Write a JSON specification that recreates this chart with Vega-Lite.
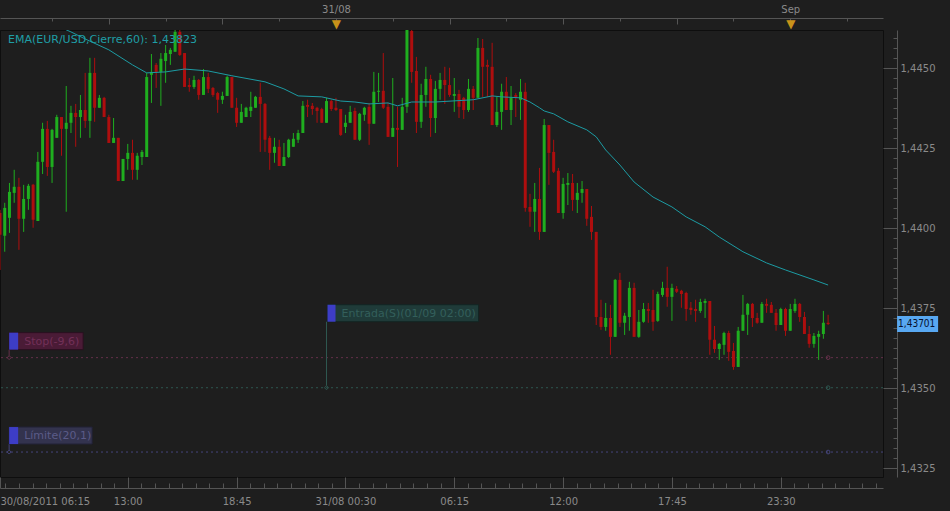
{
"$schema": "https://vega.github.io/schema/vega-lite/v6.json",
"width": 883,
"height": 447,
"autosize": {"type": "none"},
"padding": {"left": 0, "top": 30, "right": 67, "bottom": 34},
"background": "#1e1e1e",
"title": {"text": "EMA(EUR/USD,Cierre,60): 1,43823", "anchor": "start", "frame": "group", "orient": "top", "offset": 0, "dx": 8, "dy": 47, "baseline": "middle", "fontSize": 11, "font": "DejaVu Sans", "fontWeight": "normal", "color": "#1f9ea6"},
"data": {"name": "candles", "format": {"parse": {"t": "utc:'%Y-%m-%d %H:%M'"}}},
"datasets": {
"candles": [
{"t":"2011-08-30 06:15","o":1.44048,"h":1.44058,"l":1.43870,"c":1.43980},
{"t":"2011-08-30 06:30","o":1.43977,"h":1.44080,"l":1.43927,"c":1.44064},
{"t":"2011-08-30 06:45","o":1.44033,"h":1.44142,"l":1.43986,"c":1.44114},
{"t":"2011-08-30 07:00","o":1.44111,"h":1.44183,"l":1.44080,"c":1.44130},
{"t":"2011-08-30 07:15","o":1.44130,"h":1.44158,"l":1.43933,"c":1.44030},
{"t":"2011-08-30 07:30","o":1.44030,"h":1.44136,"l":1.43989,"c":1.44092},
{"t":"2011-08-30 07:45","o":1.44092,"h":1.44139,"l":1.44058,"c":1.44133},
{"t":"2011-08-30 08:00","o":1.44136,"h":1.44139,"l":1.44002,"c":1.44027},
{"t":"2011-08-30 08:15","o":1.44023,"h":1.44239,"l":1.44023,"c":1.44208},
{"t":"2011-08-30 08:30","o":1.44208,"h":1.44330,"l":1.44170,"c":1.44311},
{"t":"2011-08-30 08:45","o":1.44311,"h":1.44336,"l":1.44164,"c":1.44192},
{"t":"2011-08-30 09:00","o":1.44192,"h":1.44311,"l":1.44142,"c":1.44308},
{"t":"2011-08-30 09:15","o":1.44283,"h":1.44355,"l":1.44283,"c":1.44348},
{"t":"2011-08-30 09:30","o":1.44348,"h":1.44348,"l":1.44227,"c":1.44311},
{"t":"2011-08-30 09:45","o":1.44311,"h":1.44445,"l":1.44052,"c":1.44330},
{"t":"2011-08-30 10:00","o":1.44330,"h":1.44383,"l":1.44298,"c":1.44361},
{"t":"2011-08-30 10:15","o":1.44361,"h":1.44389,"l":1.44255,"c":1.44348},
{"t":"2011-08-30 10:30","o":1.44348,"h":1.44417,"l":1.44283,"c":1.44370},
{"t":"2011-08-30 10:45","o":1.44370,"h":1.44486,"l":1.44314,"c":1.44336},
{"t":"2011-08-30 11:00","o":1.44336,"h":1.44533,"l":1.44283,"c":1.44486},
{"t":"2011-08-30 11:15","o":1.44486,"h":1.44533,"l":1.44333,"c":1.44377},
{"t":"2011-08-30 11:30","o":1.44377,"h":1.44417,"l":1.44377,"c":1.44408},
{"t":"2011-08-30 11:45","o":1.44408,"h":1.44411,"l":1.44348,"c":1.44348},
{"t":"2011-08-30 12:00","o":1.44348,"h":1.44355,"l":1.44267,"c":1.44267},
{"t":"2011-08-30 12:15","o":1.44267,"h":1.44345,"l":1.44267,"c":1.44283},
{"t":"2011-08-30 12:30","o":1.44283,"h":1.44283,"l":1.44148,"c":1.44148},
{"t":"2011-08-30 12:45","o":1.44148,"h":1.44217,"l":1.44148,"c":1.44217},
{"t":"2011-08-30 13:00","o":1.44217,"h":1.44264,"l":1.44183,"c":1.44236},
{"t":"2011-08-30 13:15","o":1.44236,"h":1.44277,"l":1.44152,"c":1.44183},
{"t":"2011-08-30 13:30","o":1.44183,"h":1.44236,"l":1.44152,"c":1.44227},
{"t":"2011-08-30 13:45","o":1.44223,"h":1.44245,"l":1.44198,"c":1.44239},
{"t":"2011-08-30 14:00","o":1.44223,"h":1.44486,"l":1.44223,"c":1.44473},
{"t":"2011-08-30 14:15","o":1.44480,"h":1.44545,"l":1.44392,"c":1.44489},
{"t":"2011-08-30 14:30","o":1.44511,"h":1.44517,"l":1.44439,"c":1.44489},
{"t":"2011-08-30 14:45","o":1.44489,"h":1.44548,"l":1.44383,"c":1.44530},
{"t":"2011-08-30 15:00","o":1.44523,"h":1.44573,"l":1.44455,"c":1.44548},
{"t":"2011-08-30 15:15","o":1.44545,"h":1.44564,"l":1.44511,"c":1.44558},
{"t":"2011-08-30 15:30","o":1.44552,"h":1.44620,"l":1.44552,"c":1.44614},
{"t":"2011-08-30 15:45","o":1.44614,"h":1.44620,"l":1.44539,"c":1.44542},
{"t":"2011-08-30 16:00","o":1.44548,"h":1.44548,"l":1.44442,"c":1.44442},
{"t":"2011-08-30 16:15","o":1.44448,"h":1.44470,"l":1.44427,"c":1.44442},
{"t":"2011-08-30 16:30","o":1.44442,"h":1.44477,"l":1.44436,"c":1.44464},
{"t":"2011-08-30 16:45","o":1.44464,"h":1.44467,"l":1.44402,"c":1.44417},
{"t":"2011-08-30 17:00","o":1.44417,"h":1.44498,"l":1.44417,"c":1.44473},
{"t":"2011-08-30 17:15","o":1.44473,"h":1.44486,"l":1.44423,"c":1.44436},
{"t":"2011-08-30 17:30","o":1.44439,"h":1.44442,"l":1.44411,"c":1.44417},
{"t":"2011-08-30 17:45","o":1.44423,"h":1.44427,"l":1.44361,"c":1.44402},
{"t":"2011-08-30 18:00","o":1.44402,"h":1.44427,"l":1.44389,"c":1.44414},
{"t":"2011-08-30 18:15","o":1.44414,"h":1.44477,"l":1.44414,"c":1.44473},
{"t":"2011-08-30 18:30","o":1.44473,"h":1.44473,"l":1.44377,"c":1.44377},
{"t":"2011-08-30 18:45","o":1.44377,"h":1.44408,"l":1.44317,"c":1.44330},
{"t":"2011-08-30 19:00","o":1.44330,"h":1.44389,"l":1.44330,"c":1.44364},
{"t":"2011-08-30 19:15","o":1.44348,"h":1.44380,"l":1.44348,"c":1.44377},
{"t":"2011-08-30 19:30","o":1.44367,"h":1.44427,"l":1.44348,"c":1.44380},
{"t":"2011-08-30 19:45","o":1.44377,"h":1.44414,"l":1.44377,"c":1.44411},
{"t":"2011-08-30 20:00","o":1.44411,"h":1.44455,"l":1.44239,"c":1.44389},
{"t":"2011-08-30 20:15","o":1.44389,"h":1.44392,"l":1.44239,"c":1.44277},
{"t":"2011-08-30 20:30","o":1.44283,"h":1.44289,"l":1.44183,"c":1.44236},
{"t":"2011-08-30 20:45","o":1.44236,"h":1.44283,"l":1.44205,"c":1.44255},
{"t":"2011-08-30 21:00","o":1.44255,"h":1.44277,"l":1.44195,"c":1.44195},
{"t":"2011-08-30 21:15","o":1.44195,"h":1.44267,"l":1.44195,"c":1.44223},
{"t":"2011-08-30 21:30","o":1.44223,"h":1.44280,"l":1.44220,"c":1.44277},
{"t":"2011-08-30 21:45","o":1.44255,"h":1.44298,"l":1.44255,"c":1.44280},
{"t":"2011-08-30 22:00","o":1.44277,"h":1.44308,"l":1.44267,"c":1.44298},
{"t":"2011-08-30 22:15","o":1.44298,"h":1.44398,"l":1.44298,"c":1.44383},
{"t":"2011-08-30 22:30","o":1.44386,"h":1.44402,"l":1.44348,"c":1.44380},
{"t":"2011-08-30 22:45","o":1.44383,"h":1.44392,"l":1.44355,"c":1.44373},
{"t":"2011-08-30 23:00","o":1.44377,"h":1.44380,"l":1.44330,"c":1.44367},
{"t":"2011-08-30 23:15","o":1.44373,"h":1.44377,"l":1.44330,"c":1.44330},
{"t":"2011-08-30 23:30","o":1.44330,"h":1.44408,"l":1.44330,"c":1.44398},
{"t":"2011-08-30 23:45","o":1.44398,"h":1.44402,"l":1.44367,"c":1.44373},
{"t":"2011-08-31 00:00","o":1.44377,"h":1.44408,"l":1.44367,"c":1.44370},
{"t":"2011-08-31 00:15","o":1.44373,"h":1.44373,"l":1.44289,"c":1.44292},
{"t":"2011-08-31 00:30","o":1.44317,"h":1.44355,"l":1.44298,"c":1.44330},
{"t":"2011-08-31 00:45","o":1.44330,"h":1.44383,"l":1.44330,"c":1.44364},
{"t":"2011-08-31 01:00","o":1.44367,"h":1.44377,"l":1.44277,"c":1.44277},
{"t":"2011-08-31 01:15","o":1.44277,"h":1.44361,"l":1.44273,"c":1.44358},
{"t":"2011-08-31 01:30","o":1.44355,"h":1.44380,"l":1.44336,"c":1.44377},
{"t":"2011-08-31 01:45","o":1.44380,"h":1.44392,"l":1.44261,"c":1.44327},
{"t":"2011-08-31 02:00","o":1.44327,"h":1.44489,"l":1.44327,"c":1.44427},
{"t":"2011-08-31 02:15","o":1.44427,"h":1.44486,"l":1.44395,"c":1.44430},
{"t":"2011-08-31 02:30","o":1.44430,"h":1.44548,"l":1.44373,"c":1.44377},
{"t":"2011-08-31 02:45","o":1.44380,"h":1.44392,"l":1.44286,"c":1.44286},
{"t":"2011-08-31 03:00","o":1.44286,"h":1.44470,"l":1.44286,"c":1.44314},
{"t":"2011-08-31 03:15","o":1.44314,"h":1.44380,"l":1.44192,"c":1.44308},
{"t":"2011-08-31 03:30","o":1.44308,"h":1.44408,"l":1.44308,"c":1.44380},
{"t":"2011-08-31 03:45","o":1.44380,"h":1.44636,"l":1.44361,"c":1.44623},
{"t":"2011-08-31 04:00","o":1.44617,"h":1.44627,"l":1.44455,"c":1.44489},
{"t":"2011-08-31 04:15","o":1.44492,"h":1.44536,"l":1.44298,"c":1.44333},
{"t":"2011-08-31 04:30","o":1.44333,"h":1.44452,"l":1.44314,"c":1.44417},
{"t":"2011-08-31 04:45","o":1.44417,"h":1.44505,"l":1.44380,"c":1.44467},
{"t":"2011-08-31 05:00","o":1.44467,"h":1.44480,"l":1.44286,"c":1.44345},
{"t":"2011-08-31 05:15","o":1.44345,"h":1.44461,"l":1.44298,"c":1.44436},
{"t":"2011-08-31 05:30","o":1.44436,"h":1.44486,"l":1.44402,"c":1.44464},
{"t":"2011-08-31 05:45","o":1.44464,"h":1.44505,"l":1.44389,"c":1.44448},
{"t":"2011-08-31 06:00","o":1.44448,"h":1.44502,"l":1.44411,"c":1.44417},
{"t":"2011-08-31 06:15","o":1.44414,"h":1.44470,"l":1.44364,"c":1.44420},
{"t":"2011-08-31 06:30","o":1.44420,"h":1.44433,"l":1.44345,"c":1.44380},
{"t":"2011-08-31 06:45","o":1.44408,"h":1.44411,"l":1.44342,"c":1.44370},
{"t":"2011-08-31 07:00","o":1.44370,"h":1.44467,"l":1.44364,"c":1.44436},
{"t":"2011-08-31 07:15","o":1.44436,"h":1.44445,"l":1.44370,"c":1.44408},
{"t":"2011-08-31 07:30","o":1.44408,"h":1.44595,"l":1.44408,"c":1.44564},
{"t":"2011-08-31 07:45","o":1.44564,"h":1.44592,"l":1.44411,"c":1.44505},
{"t":"2011-08-31 08:00","o":1.44511,"h":1.44527,"l":1.44411,"c":1.44505},
{"t":"2011-08-31 08:15","o":1.44505,"h":1.44580,"l":1.44323,"c":1.44323},
{"t":"2011-08-31 08:30","o":1.44323,"h":1.44411,"l":1.44317,"c":1.44364},
{"t":"2011-08-31 08:45","o":1.44364,"h":1.44452,"l":1.44308,"c":1.44427},
{"t":"2011-08-31 09:00","o":1.44427,"h":1.44473,"l":1.44370,"c":1.44370},
{"t":"2011-08-31 09:15","o":1.44370,"h":1.44445,"l":1.44323,"c":1.44408},
{"t":"2011-08-31 09:30","o":1.44417,"h":1.44423,"l":1.44348,"c":1.44408},
{"t":"2011-08-31 09:45","o":1.44402,"h":1.44467,"l":1.44339,"c":1.44427},
{"t":"2011-08-31 10:00","o":1.44427,"h":1.44455,"l":1.44052,"c":1.44064},
{"t":"2011-08-31 10:15","o":1.44067,"h":1.44108,"l":1.44005,"c":1.44052},
{"t":"2011-08-31 10:30","o":1.44052,"h":1.44142,"l":1.43989,"c":1.44092},
{"t":"2011-08-31 10:45","o":1.44092,"h":1.44189,"l":1.43964,"c":1.43989},
{"t":"2011-08-31 11:00","o":1.43989,"h":1.44342,"l":1.43989,"c":1.44323},
{"t":"2011-08-31 11:15","o":1.44323,"h":1.44323,"l":1.44136,"c":1.44236},
{"t":"2011-08-31 11:30","o":1.44239,"h":1.44277,"l":1.44173,"c":1.44177},
{"t":"2011-08-31 11:45","o":1.44180,"h":1.44189,"l":1.44048,"c":1.44048},
{"t":"2011-08-31 12:00","o":1.44048,"h":1.44158,"l":1.44030,"c":1.44139},
{"t":"2011-08-31 12:15","o":1.44136,"h":1.44173,"l":1.44073,"c":1.44142},
{"t":"2011-08-31 12:30","o":1.44142,"h":1.44170,"l":1.44055,"c":1.44089},
{"t":"2011-08-31 12:45","o":1.44089,"h":1.44142,"l":1.44048,"c":1.44111},
{"t":"2011-08-31 13:00","o":1.44111,"h":1.44148,"l":1.44080,"c":1.44123},
{"t":"2011-08-31 13:15","o":1.44123,"h":1.44123,"l":1.44008,"c":1.44030},
{"t":"2011-08-31 13:30","o":1.44036,"h":1.44070,"l":1.43964,"c":1.43989},
{"t":"2011-08-31 13:45","o":1.43989,"h":1.43989,"l":1.43698,"c":1.43723},
{"t":"2011-08-31 14:00","o":1.43723,"h":1.43777,"l":1.43683,"c":1.43692},
{"t":"2011-08-31 14:15","o":1.43692,"h":1.43767,"l":1.43680,"c":1.43720},
{"t":"2011-08-31 14:30","o":1.43720,"h":1.43761,"l":1.43605,"c":1.43661},
{"t":"2011-08-31 14:45","o":1.43661,"h":1.43842,"l":1.43661,"c":1.43839},
{"t":"2011-08-31 15:00","o":1.43839,"h":1.43861,"l":1.43692,"c":1.43705},
{"t":"2011-08-31 15:15","o":1.43705,"h":1.43736,"l":1.43667,"c":1.43727},
{"t":"2011-08-31 15:30","o":1.43723,"h":1.43833,"l":1.43680,"c":1.43814},
{"t":"2011-08-31 15:45","o":1.43814,"h":1.43830,"l":1.43661,"c":1.43661},
{"t":"2011-08-31 16:00","o":1.43661,"h":1.43745,"l":1.43658,"c":1.43708},
{"t":"2011-08-31 16:15","o":1.43708,"h":1.43767,"l":1.43705,"c":1.43748},
{"t":"2011-08-31 16:30","o":1.43748,"h":1.43767,"l":1.43705,"c":1.43742},
{"t":"2011-08-31 16:45","o":1.43745,"h":1.43808,"l":1.43680,"c":1.43708},
{"t":"2011-08-31 17:00","o":1.43711,"h":1.43802,"l":1.43708,"c":1.43795},
{"t":"2011-08-31 17:15","o":1.43792,"h":1.43833,"l":1.43786,"c":1.43814},
{"t":"2011-08-31 17:30","o":1.43814,"h":1.43880,"l":1.43755,"c":1.43786},
{"t":"2011-08-31 17:45","o":1.43786,"h":1.43827,"l":1.43711,"c":1.43814},
{"t":"2011-08-31 18:00","o":1.43811,"h":1.43820,"l":1.43798,"c":1.43802},
{"t":"2011-08-31 18:15","o":1.43805,"h":1.43808,"l":1.43752,"c":1.43795},
{"t":"2011-08-31 18:30","o":1.43798,"h":1.43802,"l":1.43711,"c":1.43748},
{"t":"2011-08-31 18:45","o":1.43752,"h":1.43770,"l":1.43730,"c":1.43745},
{"t":"2011-08-31 19:00","o":1.43748,"h":1.43777,"l":1.43708,"c":1.43742},
{"t":"2011-08-31 19:15","o":1.43742,"h":1.43780,"l":1.43736,"c":1.43770},
{"t":"2011-08-31 19:30","o":1.43767,"h":1.43780,"l":1.43720,"c":1.43773},
{"t":"2011-08-31 19:45","o":1.43773,"h":1.43773,"l":1.43605,"c":1.43652},
{"t":"2011-08-31 20:00","o":1.43652,"h":1.43695,"l":1.43611,"c":1.43623},
{"t":"2011-08-31 20:15","o":1.43623,"h":1.43642,"l":1.43589,"c":1.43639},
{"t":"2011-08-31 20:30","o":1.43636,"h":1.43677,"l":1.43605,"c":1.43673},
{"t":"2011-08-31 20:45","o":1.43673,"h":1.43680,"l":1.43586,"c":1.43614},
{"t":"2011-08-31 21:00","o":1.43617,"h":1.43642,"l":1.43558,"c":1.43567},
{"t":"2011-08-31 21:15","o":1.43567,"h":1.43692,"l":1.43567,"c":1.43680},
{"t":"2011-08-31 21:30","o":1.43680,"h":1.43792,"l":1.43680,"c":1.43730},
{"t":"2011-08-31 21:45","o":1.43730,"h":1.43767,"l":1.43667,"c":1.43764},
{"t":"2011-08-31 22:00","o":1.43764,"h":1.43767,"l":1.43692,"c":1.43720},
{"t":"2011-08-31 22:15","o":1.43720,"h":1.43736,"l":1.43702,"c":1.43705},
{"t":"2011-08-31 22:30","o":1.43705,"h":1.43770,"l":1.43705,"c":1.43764},
{"t":"2011-08-31 22:45","o":1.43764,"h":1.43780,"l":1.43736,"c":1.43758},
{"t":"2011-08-31 23:00","o":1.43761,"h":1.43770,"l":1.43736,"c":1.43736},
{"t":"2011-08-31 23:15","o":1.43736,"h":1.43748,"l":1.43680,"c":1.43698},
{"t":"2011-08-31 23:30","o":1.43698,"h":1.43752,"l":1.43698,"c":1.43748},
{"t":"2011-08-31 23:45","o":1.43748,"h":1.43752,"l":1.43664,"c":1.43680},
{"t":"2011-09-01 00:00","o":1.43680,"h":1.43764,"l":1.43680,"c":1.43748},
{"t":"2011-09-01 00:15","o":1.43742,"h":1.43780,"l":1.43736,"c":1.43764},
{"t":"2011-09-01 00:30","o":1.43764,"h":1.43767,"l":1.43708,"c":1.43723},
{"t":"2011-09-01 00:45","o":1.43723,"h":1.43739,"l":1.43670,"c":1.43670},
{"t":"2011-09-01 01:00","o":1.43670,"h":1.43695,"l":1.43627,"c":1.43639},
{"t":"2011-09-01 01:15","o":1.43639,"h":1.43673,"l":1.43627,"c":1.43664},
{"t":"2011-09-01 01:30","o":1.43661,"h":1.43680,"l":1.43589,"c":1.43670},
{"t":"2011-09-01 01:45","o":1.43670,"h":1.43742,"l":1.43655,"c":1.43705},
{"t":"2011-09-01 02:00","o":1.43705,"h":1.43730,"l":1.43698,"c":1.43701}
],
"ema": [
{"time":"2011-08-30 09:30","ema":1.44627},
{"time":"2011-08-30 10:00","ema":1.44614},
{"time":"2011-08-30 10:45","ema":1.44592},
{"time":"2011-08-30 12:00","ema":1.44558},
{"time":"2011-08-30 13:15","ema":1.44511},
{"time":"2011-08-30 14:00","ema":1.44486},
{"time":"2011-08-30 15:00","ema":1.44489},
{"time":"2011-08-30 16:00","ema":1.44498},
{"time":"2011-08-30 17:15","ema":1.44492},
{"time":"2011-08-30 18:30","ema":1.44477},
{"time":"2011-08-30 20:15","ema":1.44458},
{"time":"2011-08-30 21:15","ema":1.44436},
{"time":"2011-08-30 22:00","ema":1.44414},
{"time":"2011-08-30 23:15","ema":1.44411},
{"time":"2011-08-31 00:15","ema":1.44398},
{"time":"2011-08-31 01:00","ema":1.44395},
{"time":"2011-08-31 01:45","ema":1.44389},
{"time":"2011-08-31 02:45","ema":1.44392},
{"time":"2011-08-31 03:15","ema":1.44383},
{"time":"2011-08-31 04:00","ema":1.44395},
{"time":"2011-08-31 05:15","ema":1.44395},
{"time":"2011-08-31 07:15","ema":1.44402},
{"time":"2011-08-31 08:15","ema":1.44414},
{"time":"2011-08-31 08:45","ema":1.44411},
{"time":"2011-08-31 09:45","ema":1.44408},
{"time":"2011-08-31 10:15","ema":1.44395},
{"time":"2011-08-31 10:45","ema":1.44377},
{"time":"2011-08-31 11:00","ema":1.44367},
{"time":"2011-08-31 11:30","ema":1.44358},
{"time":"2011-08-31 12:15","ema":1.44333},
{"time":"2011-08-31 13:15","ema":1.44308},
{"time":"2011-08-31 13:45","ema":1.44286},
{"time":"2011-08-31 14:15","ema":1.44245},
{"time":"2011-08-31 15:00","ema":1.44198},
{"time":"2011-08-31 15:45","ema":1.44145},
{"time":"2011-08-31 16:45","ema":1.44098},
{"time":"2011-08-31 17:45","ema":1.44067},
{"time":"2011-08-31 18:30","ema":1.44036},
{"time":"2011-08-31 19:30","ema":1.44005},
{"time":"2011-08-31 20:15","ema":1.43973},
{"time":"2011-08-31 21:30","ema":1.43927},
{"time":"2011-08-31 22:45","ema":1.43892},
{"time":"2011-08-31 23:45","ema":1.43870},
{"time":"2011-09-01 01:15","ema":1.43839},
{"time":"2011-09-01 02:00","ema":1.43823}
],
"levels": [
{"kind":"stop","label":"Stop(-9,6)","p":1.43596,"t0":"2011-08-30T06:44:00Z","t1":"2011-09-01T02:00:00Z"},
{"kind":"entry","label":"Entrada(S)(01/09 02:00)","p":1.43502,"t0":"2011-08-30T23:30:00Z","t1":"2011-09-01T02:00:00Z"},
{"kind":"limit","label":"Límite(20,1)","p":1.43301,"t0":"2011-08-30T06:44:00Z","t1":"2011-09-01T02:00:00Z"}
]
},
"layer": [
{
"data": {"name": "levels"},
"mark": {"type": "rule", "strokeDash": [2, 3], "strokeWidth": 1},
"encoding": {
"y": {"field": "p", "type": "quantitative", "scale": {"domain": [1.43223, 1.4462], "zero": false, "nice": false}, "axis": null},
"color": {"field": "kind", "type": "nominal", "scale": {"domain": ["stop", "entry", "limit"], "range": ["#64304a", "#2e5750", "#44447a"]}, "legend": null}
}
},
{
"mark": {"type": "rule", "strokeWidth": 1, "clip": true},
"encoding": {
"x": {"field": "t", "type": "temporal", "scale": {"type": "utc", "domain": [1314684900000, 1314852840000], "padding": 0},
 "axis": {"orient": "bottom", "offset": 11, "values": [1314684900000, 1314709200000, 1314729900000, 1314750600000, 1314771300000, 1314792000000, 1314812700000, 1314833400000], "tickSize": -11, "labelPadding": 19, "labelFlush": true, "grid": false, "title": null, "labelExpr": "utcFormat(datum.value, '%d %H:%M') == '30 06:15' ? utcFormat(datum.value, '%d/%m/%Y %H:%M') : (utcFormat(datum.value, '%H:%M') == '00:30' ? utcFormat(datum.value, '%d/%m %H:%M') : utcFormat(datum.value, '%H:%M'))"}},
"y": {"field": "l", "type": "quantitative", "scale": {"domain": [1.43223, 1.4462], "zero": false, "nice": false},
 "axis": {"orient": "right", "offset": 14, "values": [1.4325, 1.435, 1.4375, 1.44, 1.4425, 1.445], "tickSize": -14, "labelPadding": 17, "grid": false, "title": null, "labelExpr": "replace(format(datum.value, '.4f'), '.', ',')"}},
"y2": {"field": "h"},
"color": {"condition": {"test": "datum.c >= datum.o", "value": "#1fae1f"}, "value": "#ae0e0e"}
}
},
{
"mark": {"type": "bar", "width": 3, "clip": true},
"encoding": {
"x": {"field": "t", "type": "temporal", "scale": {"type": "utc", "domain": [1314684900000, 1314852840000], "padding": 0},
 "axis": {"orient": "bottom", "offset": 11, "values": [1314685912500, 1314688500000, 1314691087500, 1314693675000, 1314696262500, 1314698850000, 1314701437500, 1314704025000, 1314706612500, 1314709200000, 1314711787500, 1314714375000, 1314716962500, 1314719550000, 1314722137500, 1314724725000, 1314727312500, 1314729900000, 1314732487500, 1314735075000, 1314737662500, 1314740250000, 1314742837500, 1314745425000, 1314748012500, 1314750600000, 1314753187500, 1314755775000, 1314758362500, 1314760950000, 1314763537500, 1314766125000, 1314768712500, 1314771300000, 1314773887500, 1314776475000, 1314779062500, 1314781650000, 1314784237500, 1314786825000, 1314789412500, 1314792000000, 1314794587500, 1314797175000, 1314799762500, 1314802350000, 1314804937500, 1314807525000, 1314810112500, 1314812700000, 1314815287500, 1314817875000, 1314820462500, 1314823050000, 1314825637500, 1314828225000, 1314830812500, 1314833400000, 1314835987500, 1314838575000, 1314841162500, 1314843750000, 1314846337500, 1314848925000, 1314851512500], "tickSize": -5, "labels": false, "domain": false, "grid": false, "title": null}},
"y": {"field": "o", "type": "quantitative", "scale": {"domain": [1.43223, 1.4462], "zero": false, "nice": false},
 "axis": {"orient": "right", "offset": 14, "values": [1.4325, 1.4328125, 1.433125, 1.4334375, 1.43375, 1.4340625, 1.434375, 1.4346875, 1.435, 1.4353125, 1.435625, 1.4359375, 1.43625, 1.4365625, 1.436875, 1.4371875, 1.4375, 1.4378125, 1.438125, 1.4384375, 1.43875, 1.4390625, 1.439375, 1.4396875, 1.44, 1.4403125, 1.440625, 1.4409375, 1.44125, 1.4415625, 1.441875, 1.4421875, 1.4425, 1.4428125, 1.443125, 1.4434375, 1.44375, 1.4440625, 1.444375, 1.4446875, 1.445, 1.4453125, 1.445625, 1.4459375], "tickSize": -4, "labels": false, "domain": false, "grid": false, "title": null}},
"y2": {"field": "c"},
"color": {"condition": {"test": "datum.c >= datum.o", "value": "#1fae1f"}, "value": "#ae0e0e"}
}
},
{
"data": {"name": "ema", "format": {"parse": {"time": "utc:'%Y-%m-%d %H:%M'"}}},
"mark": {"type": "line", "strokeWidth": 1, "color": "#1c9ba3", "clip": true},
"encoding": {
"x": {"field": "time", "type": "temporal", "scale": {"type": "utc", "domain": [1314684900000, 1314852840000], "padding": 0},
 "axis": {"orient": "top", "offset": 12, "values": [1314694800000, 1314705600000, 1314716400000, 1314727200000, 1314738000000, 1314748800000, 1314759600000, 1314770400000, 1314781200000, 1314792000000, 1314802800000, 1314813600000, 1314824400000, 1314835200000, 1314846000000], "tickSize": -3, "labels": false, "grid": false, "title": null}},
"y": {"field": "ema", "type": "quantitative", "scale": {"domain": [1.43223, 1.4462], "zero": false, "nice": false}, "axis": null}
}
},
{
"data": {"name": "levels"},
"mark": {"type": "point", "shape": "circle", "size": 14, "filled": false, "opacity": 1, "strokeWidth": 1},
"encoding": {
"x": {"field": "t1", "type": "temporal", "scale": {"type": "utc", "domain": [1314684900000, 1314852840000], "padding": 0},
 "axis": {"orient": "top", "offset": 12, "values": [1314705600000, 1314727200000, 1314748800000, 1314770400000, 1314792000000, 1314813600000, 1314835200000], "tickSize": -6, "labelPadding": 10, "domain": false, "grid": false, "title": null, "labelExpr": "utcFormat(datum.value, '%H') == '00' ? (utcFormat(datum.value, '%d') == '01' ? 'Sep' : utcFormat(datum.value, '%d/%m')) : ''"}},
"y": {"field": "p", "type": "quantitative", "scale": {"domain": [1.43223, 1.4462], "zero": false, "nice": false}, "axis": null},
"color": {"field": "kind", "type": "nominal", "scale": {"domain": ["stop", "entry", "limit"], "range": ["#64304a", "#2e5750", "#44447a"]}, "legend": null}
}
},
{
"data": {"name": "levels"},
"mark": {"type": "point", "size": 4, "filled": false, "opacity": 1, "strokeWidth": 1},
"encoding": {
"x": {"field": "t0", "type": "temporal", "scale": {"type": "utc", "domain": [1314684900000, 1314852840000], "padding": 0},
 "axis": {"orient": "top", "offset": 12, "values": [1314748800000, 1314835200000], "ticks": false, "domain": false, "grid": false, "title": null, "labelExpr": "'▼'", "labelColor": "#c8921a", "labelFontSize": 12, "labelBaseline": "alphabetic", "labelPadding": -9}},
"y": {"field": "p", "type": "quantitative", "scale": {"domain": [1.43223, 1.4462], "zero": false, "nice": false}, "axis": null},
"shape": {"field": "kind", "type": "nominal", "scale": {"domain": ["stop", "entry", "limit"], "range": ["M0,-8V-2M-2,0L0,-2L2,0L0,2Z", "M0,-66V-2M-2,0L0,-2L2,0L0,2Z", "M0,-8V-2M-2,0L0,-2L2,0L0,2Z"]}, "legend": null},
"color": {"field": "kind", "type": "nominal", "scale": {"domain": ["stop", "entry", "limit"], "range": ["#64304a", "#2e5750", "#44447a"]}, "legend": null}
}
},
{
"data": {"name": "levels"},
"mark": {"type": "point", "size": 4, "filled": true, "opacity": 1, "strokeWidth": 1},
"encoding": {
"x": {"field": "t0", "type": "temporal", "scale": {"type": "utc", "domain": [1314684900000, 1314852840000], "padding": 0}, "axis": null},
"y": {"field": "p", "type": "quantitative", "scale": {"domain": [1.43223, 1.4462], "zero": false, "nice": false}, "axis": null},
"shape": {"field": "kind", "type": "nominal", "scale": {"domain": ["stop", "entry", "limit"], "range": ["M0,-25H74V-8H0Z", "M1,-83H152V-66H1Z", "M0,-25H83V-8H0Z"]}, "legend": null},
"color": {"field": "kind", "type": "nominal", "scale": {"domain": ["stop", "entry", "limit"], "range": ["#4a1b36", "#1f3b39", "#33334e"]}, "legend": null},
"stroke": {"field": "kind", "type": "nominal", "scale": {"domain": ["stop", "entry", "limit"], "range": ["#2a1020", "#132523", "#222236"]}, "legend": null}
}
},
{
"data": {"name": "levels"},
"mark": {"type": "point", "size": 4, "filled": true, "opacity": 1, "color": "#3d3dc6"},
"encoding": {
"x": {"field": "t0", "type": "temporal", "scale": {"type": "utc", "domain": [1314684900000, 1314852840000], "padding": 0}, "axis": null},
"y": {"field": "p", "type": "quantitative", "scale": {"domain": [1.43223, 1.4462], "zero": false, "nice": false}, "axis": null},
"shape": {"field": "kind", "type": "nominal", "scale": {"domain": ["stop", "entry", "limit"], "range": ["M0,-25H9V-8H0Z", "M1,-83H9V-66H1Z", "M0,-25H9V-8H0Z"]}, "legend": null}
}
},
{
"data": {"name": "levels"},
"transform": [{"filter": "datum.kind != 'entry'"}],
"mark": {"type": "text", "align": "left", "baseline": "middle", "dx": 15, "dy": -16, "fontSize": 11, "font": "DejaVu Sans"},
"encoding": {
"x": {"field": "t0", "type": "temporal", "scale": {"type": "utc", "domain": [1314684900000, 1314852840000], "padding": 0}, "axis": null},
"y": {"field": "p", "type": "quantitative", "scale": {"domain": [1.43223, 1.4462], "zero": false, "nice": false}, "axis": null},
"text": {"field": "label", "type": "nominal"},
"color": {"field": "kind", "type": "nominal", "scale": {"domain": ["stop", "limit"], "range": ["#733058", "#5b5b88"]}, "legend": null}
}
},
{
"data": {"name": "levels"},
"transform": [{"filter": "datum.kind == 'entry'"}],
"mark": {"type": "text", "align": "left", "baseline": "middle", "dx": 15, "dy": -74, "fontSize": 11, "font": "DejaVu Sans", "color": "#335f5b"},
"encoding": {
"x": {"field": "t0", "type": "temporal", "scale": {"type": "utc", "domain": [1314684900000, 1314852840000], "padding": 0}, "axis": null},
"y": {"field": "p", "type": "quantitative", "scale": {"domain": [1.43223, 1.4462], "zero": false, "nice": false}, "axis": null},
"text": {"field": "label", "type": "nominal"}
}
},
{
"transform": [{"filter": "time(datum.t) == 1314842400000"}],
"mark": {"type": "point", "size": 4, "filled": true, "opacity": 1, "color": "#58a8f2", "shape": "M69,-8H110V8H69Z"},
"encoding": {
"x": {"field": "t", "type": "temporal", "scale": {"type": "utc", "domain": [1314684900000, 1314852840000], "padding": 0}, "axis": null},
"y": {"field": "c", "type": "quantitative", "scale": {"domain": [1.43223, 1.4462], "zero": false, "nice": false}, "axis": null}
}
},
{
"transform": [{"filter": "time(datum.t) == 1314842400000"}, {"calculate": "replace(format(datum.c, '.5f'), '.', ',')", "as": "lbl"}],
"mark": {"type": "text", "align": "left", "baseline": "middle", "dx": 70, "fontSize": 10, "font": "DejaVu Sans Condensed", "color": "#06102e"},
"encoding": {
"x": {"field": "t", "type": "temporal", "scale": {"type": "utc", "domain": [1314684900000, 1314852840000], "padding": 0}, "axis": null},
"y": {"field": "c", "type": "quantitative", "scale": {"domain": [1.43223, 1.4462], "zero": false, "nice": false}, "axis": null},
"text": {"field": "lbl", "type": "nominal"}
}
}
],
"resolve": {"axis": {"x": "independent", "y": "independent"}, "scale": {"color": "independent", "shape": "independent", "stroke": "independent"}},
"config": {
"view": {"stroke": "#0e0e0e", "fill": "#1e1e1e"},
"axis": {"labelFont": "DejaVu Sans", "labelFontSize": 10, "labelColor": "#8a8a8a", "tickColor": "#555555", "domainColor": "#555555", "grid": false}
}
}
